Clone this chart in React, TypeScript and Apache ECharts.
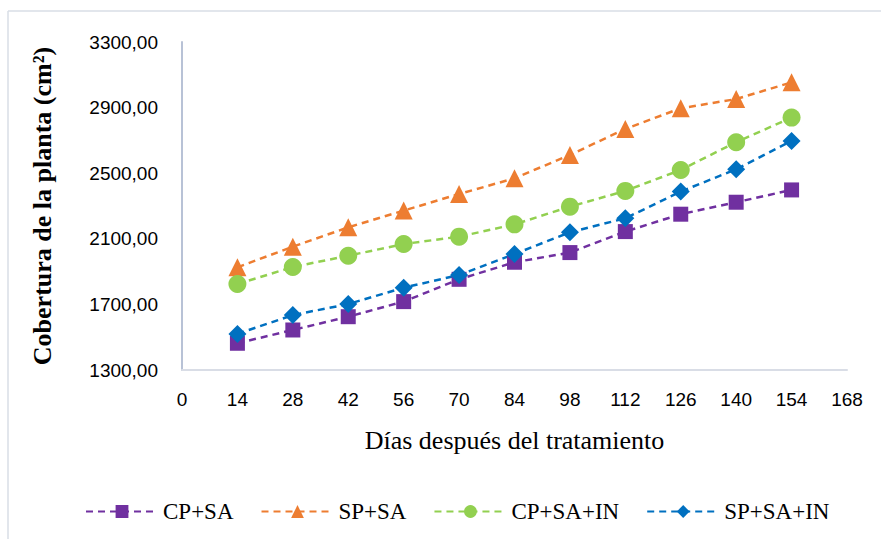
import React, { useEffect, useRef } from "react";
import * as echarts from "echarts";

const days = [14, 28, 42, 56, 70, 84, 98, 112, 126, 140, 154];
const seriesNames = ["CP+SA", "SP+SA", "CP+SA+IN", "SP+SA+IN"];
const cpSa = [1463, 1544, 1625, 1717, 1853, 1957, 2016, 2144, 2250, 2323, 2398];
const spSa = [1926, 2052, 2170, 2272, 2373, 2469, 2611, 2770, 2896, 2952, 3054];
const cpSaIn = [1824, 1928, 1997, 2068, 2113, 2188, 2296, 2392, 2520, 2689, 2839];
const spSaIn = [1520, 1635, 1702, 1802, 1879, 2007, 2140, 2225, 2388, 2524, 2697];
const yTicks = [1300, 1700, 2100, 2500, 2900, 3300];
const xTicks = [0, 14, 28, 42, 56, 70, 84, 98, 112, 126, 140, 154, 168];

const colors = ["#7030A0", "#ED7D31", "#92D050", "#0070C0"];
const symbols = ["rect", "triangle", "circle", "diamond"];
const sizes = [15, 18, 18, 18];

export default function App() {
  const ref = useRef<HTMLDivElement>(null);
  useEffect(() => {
    if (!ref.current) return;
    const chart = echarts.init(ref.current, null, { renderer: "svg" });
    const all = [cpSa, spSa, cpSaIn, spSaIn];
    chart.setOption({
      animation: false,
      backgroundColor: "#ffffff",
      graphic: [
        { type: "line", shape: { x1: 8, y1: 11, x2: 881, y2: 11 }, style: { stroke: "#D9DEE6", lineWidth: 1.5 } },
        { type: "line", shape: { x1: 8, y1: 11, x2: 8, y2: 539 }, style: { stroke: "#D9DEE6", lineWidth: 1.5 } },
      ],
      grid: { left: 182, right: 34, top: 42, bottom: 169 },
      legend: {
        data: seriesNames,
        left: 80,
        top: 495,
        itemWidth: 72,
        itemHeight: 16,
        itemGap: 27,
        textStyle: { fontFamily: "Liberation Serif", fontSize: 23, color: "#000" },
      },
      xAxis: {
        type: "value",
        min: xTicks[0],
        max: xTicks[xTicks.length - 1],
        interval: 14,
        name: "Días después del tratamiento",
        nameLocation: "middle",
        nameGap: 57,
        nameTextStyle: { fontFamily: "Liberation Serif", fontSize: 26, color: "#000" },
        axisLine: { show: true, lineStyle: { color: "#D9DDE6", width: 2 } },
        axisTick: { show: false },
        splitLine: { show: false },
        axisLabel: { margin: 20, fontFamily: "Liberation Sans", fontSize: 19, color: "#000" },
      },
      yAxis: {
        type: "value",
        min: yTicks[0],
        max: yTicks[yTicks.length - 1],
        interval: 400,
        name: "Cobertura de la planta (cm²)",
        nameLocation: "middle",
        nameGap: 127,
        nameRotate: 90,
        nameTextStyle: { fontFamily: "Liberation Serif", fontWeight: "bold", fontSize: 26, color: "#000" },
        axisLine: { show: true, lineStyle: { color: "#B8C2D6", width: 2 } },
        axisTick: { show: false },
        splitLine: { show: false },
        axisLabel: {
          margin: 24,
          fontFamily: "Liberation Sans",
          fontSize: 19,
          color: "#000",
          formatter: (v: number) => v.toFixed(2).replace(".", ","),
        },
      },
      series: seriesNames.map((n, i) => ({
        name: n,
        type: "line",
        data: days.map((d, j) => [d, all[i][j]]),
        symbol: symbols[i],
        symbolSize: sizes[i],
        itemStyle: { color: colors[i] },
        lineStyle: { color: colors[i], width: 2.5, type: [7, 5] },
      })),
    });
    return () => chart.dispose();
  }, []);
  return <div ref={ref} style={{ width: 881, height: 539, position: "absolute", left: 0, top: 0 }} />;
}
